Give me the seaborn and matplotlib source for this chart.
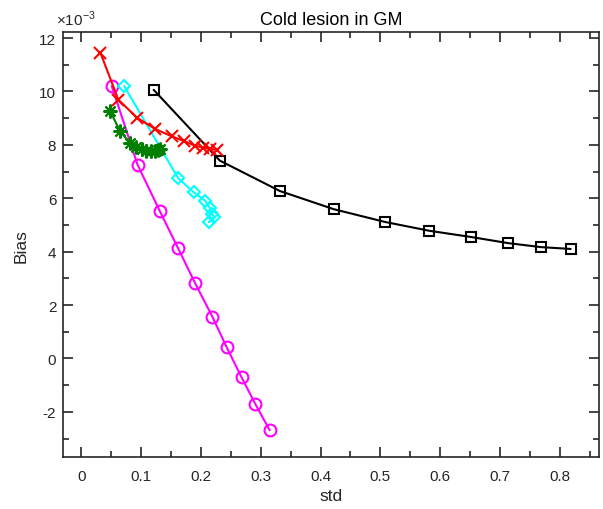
import matplotlib
matplotlib.use("Agg")
import matplotlib.pyplot as plt
import seaborn as sns
import numpy as np
import pandas as pd
from matplotlib.ticker import MultipleLocator

# ---- data (Bias values in units of 1e-3) ----
black_x = [0.121, 0.2315, 0.332, 0.422, 0.508, 0.582, 0.651, 0.713, 0.768, 0.818]
black_y = [10.06, 7.41, 6.27, 5.59, 5.11, 4.78, 4.55, 4.32, 4.17, 4.10]

magenta_x = [0.051, 0.094, 0.131, 0.162, 0.190, 0.219, 0.243, 0.268, 0.291, 0.315]
magenta_y = [10.2, 7.26, 5.53, 4.12, 2.83, 1.57, 0.42, -0.71, -1.71, -2.69]

cyan_x = [0.0717, 0.162, 0.188, 0.2075, 0.2145, 0.2185, 0.222, 0.213]
cyan_y = [10.2, 6.75, 6.22, 5.90, 5.64, 5.41, 5.29, 5.10]

red_x = [0.032, 0.062, 0.093, 0.123, 0.151, 0.172, 0.190, 0.204, 0.216, 0.227]
red_y = [11.45, 9.69, 9.02, 8.60, 8.32, 8.14, 7.97, 7.89, 7.84, 7.82]

green_x = [0.048, 0.0645, 0.081, 0.092, 0.1007, 0.109, 0.117, 0.123, 0.128, 0.131]
green_y = [9.28, 8.52, 8.08, 7.91, 7.85, 7.78, 7.76, 7.78, 7.82, 7.85]

x_ticks = [0, 0.1, 0.2, 0.3, 0.4, 0.5, 0.6, 0.7, 0.8]
x_tick_labels = ["0", "0.1", "0.2", "0.3", "0.4", "0.5", "0.6", "0.7", "0.8"]
y_ticks = [-2, 0, 2, 4, 6, 8, 10, 12]
y_tick_labels = ["-2", "0", "2", "4", "6", "8", "10", "12"]

title = "Cold lesion in GM"
xlabel = "std"
ylabel = "Bias"
scale = 1e-3

sns.set_style("ticks")
plt.rcParams["font.family"] = ["Liberation Sans", "DejaVu Sans"]
plt.rcParams["mathtext.fontset"] = "custom"
plt.rcParams["mathtext.rm"] = "Liberation Sans"
plt.rcParams["axes.unicode_minus"] = False

fig = plt.figure(figsize=(6.03, 5.10), dpi=100)
ax = fig.add_axes([0.105, 0.101, 0.888, 0.834])

axcol = (0.15, 0.15, 0.15)

asterisk = (8, 2, 0)
series = [
    (black_x, black_y, "black", "s", 7, "none"),
    (magenta_x, magenta_y, (1, 0, 1), "o", 8.5, "none"),
    (cyan_x, cyan_y, (0, 1, 1), "D", 6.5, "none"),
    (red_x, red_y, (1, 0, 0), "x", 8.5, None),
    (green_x, green_y, (0, 0.5, 0), asterisk, 10, None),
]
for xs, ys, col, mk, ms, fc in series:
    df = pd.DataFrame({"x": xs, "y": np.array(ys) * scale})
    kw = dict(markeredgecolor=col, markeredgewidth=1.5, markersize=ms)
    kw["markerfacecolor"] = fc if fc is not None else col
    sns.lineplot(data=df, x="x", y="y", sort=False, estimator=None, color=col,
                 marker=mk, linewidth=1.5, ax=ax, **kw)

ax.set_xlim(-0.03, 0.865)
ax.set_ylim(-3.71e-3, 12.22e-3)
ax.set_xticks(x_ticks)
ax.set_xticklabels(x_tick_labels)
ax.set_yticks(np.array(y_ticks) * scale)
ax.set_yticklabels(y_tick_labels)
ax.xaxis.set_minor_locator(MultipleLocator(0.05))
ax.yaxis.set_minor_locator(MultipleLocator(1e-3))

ax.tick_params(which="both", direction="in", top=True, right=True,
               colors=axcol, labelsize=11, width=1.2)
ax.tick_params(which="major", length=7)
ax.tick_params(which="minor", length=4)
ax.tick_params(axis="x", which="major", pad=8)
ax.tick_params(axis="y", which="major", pad=5)
for s in ax.spines.values():
    s.set_color(axcol)
    s.set_linewidth(1.2)

ax.annotate(r"$\times10^{-3}$", xy=(0, 1), xycoords="axes fraction",
            xytext=(-5, 3), textcoords="offset points", ha="left", va="bottom",
            fontsize=11, color=axcol)

ax.set_title(title, fontsize=13, color="black", pad=6)
ax.set_xlabel(xlabel, fontsize=12.5, color=axcol, labelpad=4)
ax.set_ylabel(ylabel, fontsize=12.5, color=axcol, labelpad=8)
ax.grid(False)
legend = ax.get_legend()
if legend is not None:
    legend.remove()

fig.savefig("out.png", dpi=100)
